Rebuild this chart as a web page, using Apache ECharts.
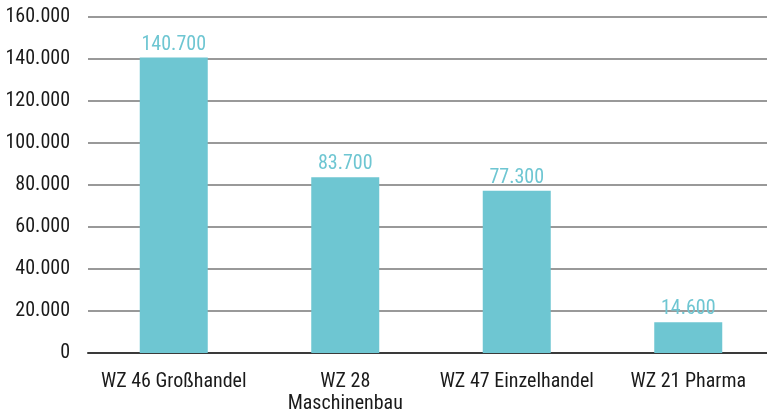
<!DOCTYPE html>
<html><head><meta charset="utf-8">
<script src="https://cdn.jsdelivr.net/npm/echarts@6/dist/echarts.min.js"></script>
<style>html,body{margin:0;padding:0;background:#fff}#c{width:767px;height:412px}</style>
</head><body><div id="c"></div>
<script>
const categories = ['WZ 46 Großhandel', 'WZ 28\nMaschinenbau', 'WZ 47 Einzelhandel', 'WZ 21 Pharma'];
const values = [140700, 83700, 77300, 14600];
const yTicks = [0, 20000, 40000, 60000, 80000, 100000, 120000, 140000, 160000];

const fmt = v => String(v).replace(/\B(?=(\d{3})+(?!\d))/g, '.');
const font = '"Roboto Condensed", sans-serif';

const chart = echarts.init(document.getElementById('c'), null, {renderer: 'canvas'});
chart.setOption({
  animation: false,
  grid: {left: 88, top: 17, width: 686, height: 336, containLabel: false, outerBoundsMode: 'none'},
  xAxis: {
    type: 'category',
    data: categories,
    axisTick: {show: false},
    axisLine: {lineStyle: {color: '#3a3a3a', width: 2}},
    axisLabel: {color: '#1a1a1a', fontFamily: font, fontSize: 20, margin: 18, lineHeight: 22, interval: 0}
  },
  yAxis: {
    type: 'value',
    min: yTicks[0],
    max: yTicks[yTicks.length - 1],
    interval: 20000,
    axisLine: {show: false},
    axisTick: {show: false},
    splitLine: {lineStyle: {color: '#777', width: 1.5}},
    axisLabel: {color: '#1a1a1a', fontFamily: font, fontSize: 20, margin: 18, formatter: v => fmt(v)}
  },
  series: [{
    type: 'bar',
    data: values,
    barWidth: 68,
    itemStyle: {color: '#6ec6d2'},
    label: {show: true, position: 'top', distance: 3, color: '#6ec6d2', fontFamily: font, fontSize: 20, formatter: p => fmt(p.value)}
  }]
});
</script></body></html>
